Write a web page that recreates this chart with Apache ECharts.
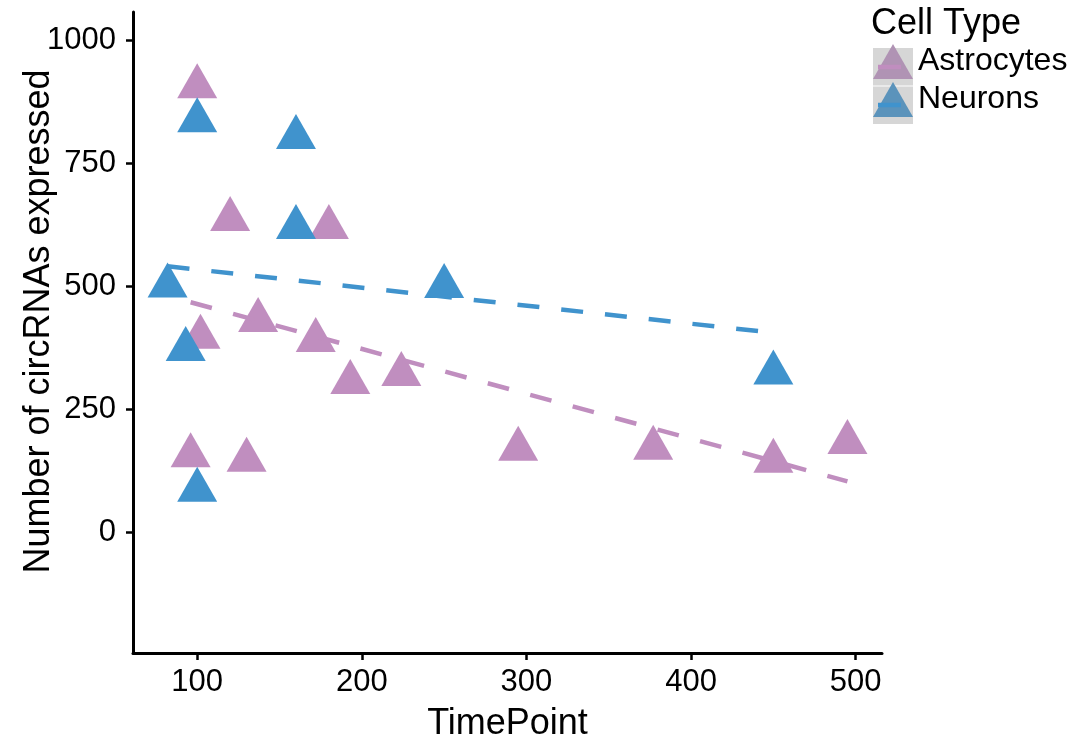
<!DOCTYPE html>
<html>
<head>
<meta charset="utf-8">
<script src="https://cdn.jsdelivr.net/npm/echarts@6/dist/echarts.min.js"></script>
<style>
html,body{margin:0;padding:0;background:#fff;}
#chart{width:1070px;height:744px;}
</style>
</head>
<body>
<div id="chart"></div>
<script>
// ---- data ----
const astroX = [100, 120, 180, 102, 137, 172, 193, 224, 96, 130, 295, 377, 450, 495];
const astroY = [905, 635, 619, 396, 430, 389, 304, 320, 155, 146, 168, 170, 144, 182];
const neuronX = [100, 160, 160, 82, 250, 93, 100, 450];
const neuronY = [836, 802, 619, 500, 499, 371, 85, 323];
// dashed linear-fit lines (endpoints)
const astroFitX = [96, 495];
const astroFitY = [467, 103];
const neuronFitX = [82, 450];
const neuronFitY = [540, 405];
const xTicks = [100, 200, 300, 400, 500];
const yTicks = [0, 250, 500, 750, 1000];
const seriesNames = ['Astrocytes', 'Neurons'];

const PURPLE = '#c08ebf';
const BLUE = '#4093cd';
const FONT = 'Liberation Sans, Arial, Helvetica, sans-serif';

const zip = (xs, ys) => xs.map((x, i) => [x, ys[i]]);

const chart = echarts.init(document.getElementById('chart'), null, {renderer: 'canvas'});

const axisLineStyle = {show: true, onZero: false, lineStyle: {color: '#000', width: 3}};

chart.setOption({
  animation: false,
  backgroundColor: '#fff',
  textStyle: {fontFamily: FONT},
  title: {
    text: 'Cell Type',
    left: 871, top: 6, padding: 0,
    textStyle: {fontFamily: FONT, fontSize: 36, fontWeight: 'normal', color: '#000'}
  },
  legend: {
    data: [
      {name: seriesNames[0], itemStyle: {color: '#b093b4'}},
      {name: seriesNames[1], itemStyle: {color: '#5b93bb'}}
    ],
    orient: 'vertical',
    left: 873, top: 44, padding: 0,
    icon: 'triangle',
    itemWidth: 40, itemHeight: 35, itemGap: 3,
    selectedMode: false,
    textStyle: {fontFamily: FONT, fontSize: 32, color: '#000', lineHeight: 23, padding: [12, 0, 0, 0]}
  },
  graphic: [
    {type: 'rect', left: 873, top: 48, z: 0, shape: {width: 40, height: 37.5}, style: {fill: '#d6d6d6'}},
    {type: 'rect', left: 873, top: 86.5, z: 0, shape: {width: 40, height: 37.5}, style: {fill: '#d6d6d6'}},
    {type: 'line', z: 10, shape: {x1: 878, y1: 67, x2: 901, y2: 67}, style: {stroke: PURPLE, lineWidth: 4.5}},
    {type: 'line', z: 10, shape: {x1: 878, y1: 105, x2: 901, y2: 105}, style: {stroke: BLUE, lineWidth: 4.5}}
  ],
  grid: {left: 133, right: 188, top: 12, bottom: 91, containLabel: false, outerBoundsMode: 'none'},
  xAxis: {
    type: 'value',
    min: 61, max: 516,
    splitLine: {show: false},
    axisLine: axisLineStyle,
    name: 'TimePoint', nameLocation: 'middle', nameGap: 53, nameMoveOverlap: false,
    nameTextStyle: {fontFamily: FONT, fontSize: 36, color: '#000'},
    axisTick: {show: true, length: 7, lineStyle: {color: '#000', width: 2.5}, customValues: xTicks},
    axisLabel: {customValues: xTicks, fontFamily: FONT, fontSize: 31, color: '#000', margin: 14,
      formatter: v => String(v)}
  },
  yAxis: {
    type: 'value',
    min: -246, max: 1057,
    splitLine: {show: false},
    axisLine: axisLineStyle,
    name: 'Number of circRNAs expressed', nameLocation: 'middle', nameGap: 76, nameRotate: 90,
    nameMoveOverlap: false,
    nameTextStyle: {fontFamily: FONT, fontSize: 36, color: '#000', padding: [0, 0, 0, 22]},
    axisTick: {show: true, length: 7, lineStyle: {color: '#000', width: 2.5}, customValues: yTicks},
    axisLabel: {customValues: yTicks, fontFamily: FONT, fontSize: 31, color: '#000', margin: 17,
      formatter: v => String(v)}
  },
  series: [
    {
      name: seriesNames[0], type: 'scatter', z: 2,
      symbol: 'triangle', symbolSize: [40, 35], symbolOffset: [0, -6],
      itemStyle: {color: PURPLE, opacity: 1},
      data: zip(astroX, astroY)
    },
    {
      name: seriesNames[1], type: 'scatter', z: 3,
      symbol: 'triangle', symbolSize: [40, 35], symbolOffset: [0, -6],
      itemStyle: {color: BLUE, opacity: 1},
      data: zip(neuronX, neuronY)
    },
    {
      name: 'Astrocytes fit', type: 'line', z: 4,
      showSymbol: false, symbol: 'none', silent: true,
      lineStyle: {color: PURPLE, width: 4.5, type: [22, 22], cap: 'butt'},
      data: zip(astroFitX, astroFitY)
    },
    {
      name: 'Neurons fit', type: 'line', z: 4,
      showSymbol: false, symbol: 'none', silent: true,
      lineStyle: {color: BLUE, width: 4.5, type: [22, 22], cap: 'butt'},
      data: zip(neuronFitX, neuronFitY)
    }
  ]
});
</script>
</body>
</html>
